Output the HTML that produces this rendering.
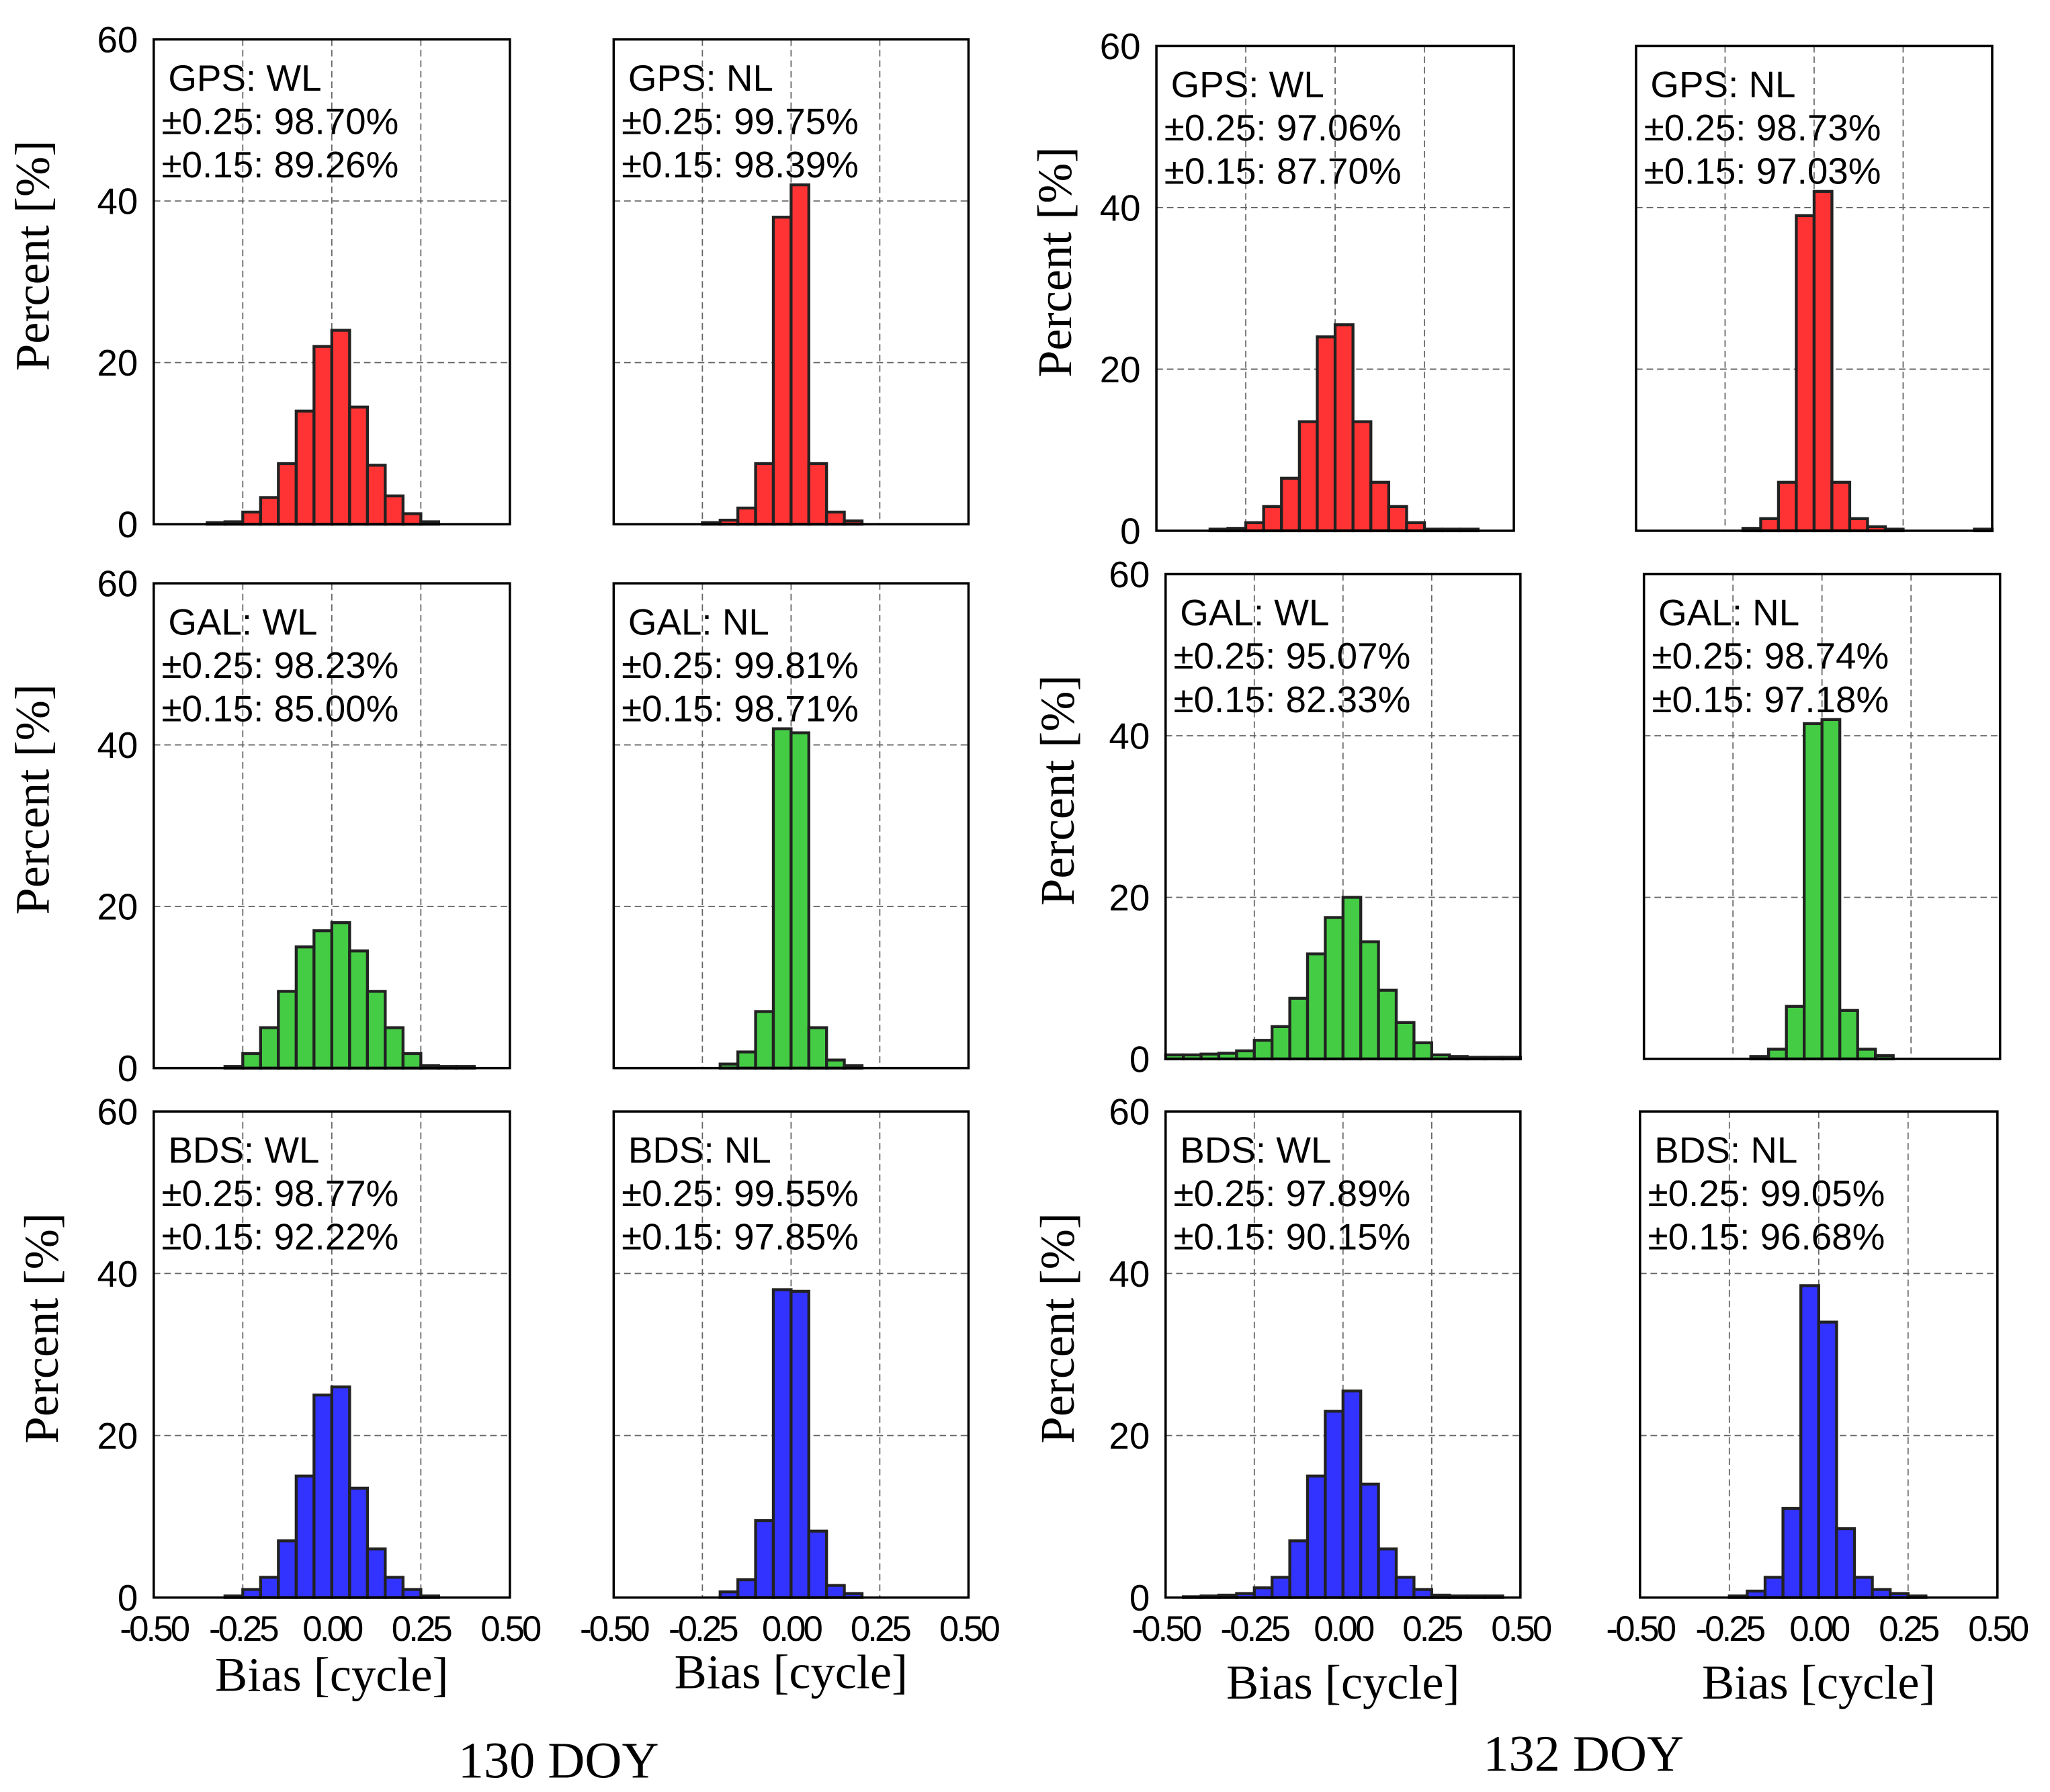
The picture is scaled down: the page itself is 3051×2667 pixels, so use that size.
<!DOCTYPE html>
<html><head><meta charset="utf-8"><style>html,body{margin:0;padding:0;background:#fff}svg{display:block}</style></head>
<body>
<svg id="fig" xmlns="http://www.w3.org/2000/svg" width="3051" height="2667" viewBox="0 0 1560 1364" preserveAspectRatio="none"></svg>
<script>
// bin left edges: -0.50 .. 0.45 step 0.05 (20 bins)
const binEdges = [-0.5,-0.45,-0.4,-0.35,-0.3,-0.25,-0.2,-0.15,-0.1,-0.05,0,0.05,0.1,0.15,0.2,0.25,0.3,0.35,0.4,0.45];
const yTicks = [0,20,40,60];
const xTickLabels = ["-0.50","-0.25","0.00","0.25","0.50"];
const xTickValues = [-0.5,-0.25,0,0.25,0.5];
const gpsWL130 = [0,0,0,0.2,0.3,1.5,3.3,7.5,14,22,24,14.5,7.3,3.5,1.3,0.3,0,0,0,0];
const gpsNL130 = [0,0,0,0,0,0.2,0.5,2,7.5,38,42,7.5,1.5,0.4,0,0,0,0,0,0];
const gpsWL132 = [0,0,0,0.2,0.3,1,3,6.5,13.5,24,25.5,13.5,6,3,1,0.2,0.2,0.2,0,0];
const gpsNL132 = [0,0,0,0,0,0,0.3,1.5,6,39,42,6,1.5,0.5,0.2,0,0,0,0,0.2];
const galWL130 = [0,0,0,0,0.2,1.8,5,9.5,15,17,18,14.5,9.5,5,1.8,0.3,0.2,0.2,0,0];
const galNL130 = [0,0,0,0,0,0,0.5,2,7,42,41.5,5,1,0.3,0,0,0,0,0,0];
const galWL132 = [0.5,0.5,0.6,0.7,1,2.3,4,7.5,13,17.5,20,14.5,8.5,4.5,2,0.5,0.3,0.2,0.2,0.2];
const galNL132 = [0,0,0,0,0,0,0.3,1.2,6.5,41.5,42,6,1.2,0.4,0,0,0,0,0,0];
const bdsWL130 = [0,0,0,0,0.2,1,2.5,7,15,25,26,13.5,6,2.5,1,0.2,0,0,0,0];
const bdsNL130 = [0,0,0,0,0,0,0.7,2.2,9.5,38,37.8,8.2,1.5,0.5,0,0,0,0,0,0];
const bdsWL132 = [0,0.1,0.2,0.3,0.5,1.2,2.5,7,15,23,25.5,14,6,2.5,1,0.3,0.2,0.2,0.2,0];
const bdsNL132 = [0,0,0,0,0,0.2,0.8,2.5,11,38.5,34,8.5,2.5,1,0.5,0.2,0,0,0,0];

const panels = [
 {id:'gps-wl-130',x:117,y:30,w:271,h:369,data:gpsWL130,c:'#ff3333',t:['GPS: WL','±0.25: 98.70%','±0.15: 89.26%'],yl:true,xl:false,yo:80},
 {id:'gps-nl-130',x:467,y:30,w:270,h:369,data:gpsNL130,c:'#ff3333',t:['GPS: NL','±0.25: 99.75%','±0.15: 98.39%'],yl:false,xl:false},
 {id:'gps-wl-132',x:880,y:35,w:272,h:369,data:gpsWL132,c:'#ff3333',t:['GPS: WL','±0.25: 97.06%','±0.15: 87.70%'],yl:true,xl:false,yo:65},
 {id:'gps-nl-132',x:1245,y:35,w:271,h:369,data:gpsNL132,c:'#ff3333',t:['GPS: NL','±0.25: 98.73%','±0.15: 97.03%'],yl:false,xl:false},
 {id:'gal-wl-130',x:117,y:444,w:271,h:369,data:galWL130,c:'#44cc44',t:['GAL: WL','±0.25: 98.23%','±0.15: 85.00%'],yl:true,xl:false,yo:80},
 {id:'gal-nl-130',x:467,y:444,w:270,h:369,data:galNL130,c:'#44cc44',t:['GAL: NL','±0.25: 99.81%','±0.15: 98.71%'],yl:false,xl:false},
 {id:'gal-wl-132',x:887,y:437,w:270,h:369,data:galWL132,c:'#44cc44',t:['GAL: WL','±0.25: 95.07%','±0.15: 82.33%'],yl:true,xl:false,yo:70},
 {id:'gal-nl-132',x:1251,y:437,w:271,h:369,data:galNL132,c:'#44cc44',t:['GAL: NL','±0.25: 98.74%','±0.15: 97.18%'],yl:false,xl:false},
 {id:'bds-wl-130',x:117,y:846,w:271,h:370,data:bdsWL130,c:'#3333ff',t:['BDS: WL','±0.25: 98.77%','±0.15: 92.22%'],yl:true,xl:true,bl:1287,yo:73},
 {id:'bds-nl-130',x:467,y:846,w:270,h:370,data:bdsNL130,c:'#3333ff',t:['BDS: NL','±0.25: 99.55%','±0.15: 97.85%'],yl:false,xl:true,bl:1285},
 {id:'bds-wl-132',x:887,y:846,w:270,h:370,data:bdsWL132,c:'#3333ff',t:['BDS: WL','±0.25: 97.89%','±0.15: 90.15%'],yl:true,xl:true,bl:1293,yo:70},
 {id:'bds-nl-132',x:1248,y:846,w:272,h:370,data:bdsNL132,c:'#3333ff',t:['BDS: NL','±0.25: 99.05%','±0.15: 96.68%'],yl:false,xl:true,bl:1293}
];
const NS='http://www.w3.org/2000/svg';
const svg=document.getElementById('fig');
function mk(tag,attrs,parent,txt){const e=document.createElementNS(NS,tag);for(const k in attrs)e.setAttribute(k,attrs[k]);if(txt!==undefined)e.textContent=txt;(parent||svg).appendChild(e);return e;}
panels.forEach(p=>{
  const g=mk('g',{});
  
  
  const sx=v=>p.x+(v+0.5)*p.w;
  const sy=v=>p.y+p.h-(v/60)*p.h;
  [-0.25,0,0.25].forEach(v=>{const l=mk('line',{x1:sx(v),x2:sx(v),y1:p.y,y2:p.y+p.h,stroke:'#666','stroke-width':0.9,'stroke-dasharray':'5 3'},g);
    });
  [20,40].forEach(v=>{const l=mk('line',{x1:p.x,x2:p.x+p.w,y1:sy(v),y2:sy(v),stroke:'#666','stroke-width':0.9,'stroke-dasharray':'5 3'},g);
    });
  p.data.forEach((v,i)=>{ if(v<=0) return;
    const x0=sx(binEdges[i]),x1=sx(binEdges[i]+0.05);
    const r=mk('rect',{x:x0,y:sy(v),width:x1-x0,height:sy(0)-sy(v),fill:p.c,stroke:'#222','stroke-width':2.2},g);
    });
  const f=mk('rect',{x:p.x,y:p.y,width:p.w,height:p.h,fill:'none',stroke:'#000','stroke-width':1.8},g);
  
  p.t.forEach((s,i)=>{const t=mk('text',{x:p.x+(i==0?11:6),y:p.y+39+i*33,'font-family':'Liberation Sans, sans-serif','font-size':28,fill:'#000'},g,s);
    });
  if(p.yl){
    yTicks.forEach(v=>{const t=mk('text',{x:p.x-12,y:sy(v)+10,'text-anchor':'end','font-family':'Liberation Sans, sans-serif','font-size':28,fill:'#000'},g,String(v));
      });
    const cx=p.x-p.yo,cy=p.y+p.h/2-20;
    const t=mk('text',{x:cx,y:cy,'text-anchor':'middle','font-family':'Liberation Serif, serif','font-size':37,fill:'#000',transform:`rotate(-90 ${cx} ${cy})`},g,'Percent [%]');
    
  }
  if(p.xl){
    xTickValues.forEach((v,i)=>{const t=mk('text',{x:sx(v),y:p.y+p.h+33,'text-anchor':'middle','font-family':'Liberation Sans, sans-serif','font-size':27,'letter-spacing':-2,fill:'#000'},g,xTickLabels[i]);
      });
    const t=mk('text',{x:p.x+p.w/2,y:p.bl,'text-anchor':'middle','font-family':'Liberation Serif, serif','font-size':37,fill:'#000'},g,'Bias [cycle]');
    
  }
});
[['130 DOY',425,1353,'doy-130-label'],['132 DOY',1205,1348,'doy-132-label']].forEach(a=>{
  const t=mk('text',{x:a[1],y:a[2],'text-anchor':'middle','font-family':'Liberation Serif, serif','font-size':39,fill:'#000'},svg,a[0]);
  
});
</script>
</body></html>
